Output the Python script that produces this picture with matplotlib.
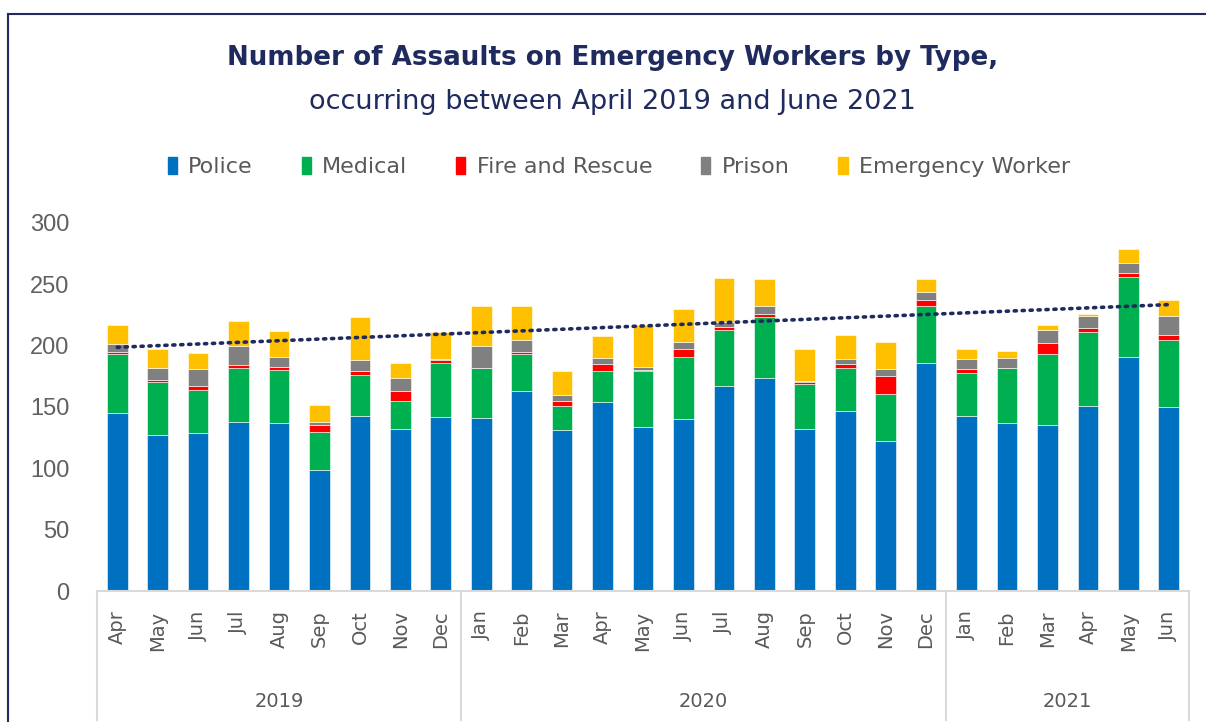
import matplotlib.pyplot as plt
import numpy as np
from matplotlib.lines import Line2D
from matplotlib.patches import Patch

plt.rcParams['font.family'] = ['DejaVu Sans']

months = ['Apr', 'May', 'Jun', 'Jul', 'Aug', 'Sep', 'Oct', 'Nov', 'Dec',
          'Jan', 'Feb', 'Mar', 'Apr', 'May', 'Jun', 'Jul', 'Aug', 'Sep', 'Oct', 'Nov', 'Dec',
          'Jan', 'Feb', 'Mar', 'Apr', 'May', 'Jun']
years = ['2019', '2020', '2021']
year_counts = [9, 12, 6]

police = [145, 127, 129, 138, 137, 99, 143, 132, 142,
          141, 163, 131, 154, 134, 140, 167, 174, 132, 147, 122, 186,
          143, 137, 135, 151, 191, 150]
medical = [48, 43, 35, 44, 43, 31, 33, 23, 44,
           41, 30, 20, 25, 45, 51, 46, 49, 37, 35, 39, 46,
           35, 45, 58, 60, 65, 55]
fire = [2, 2, 3, 2, 3, 5, 3, 8, 2,
        0, 2, 4, 6, 1, 6, 2, 3, 1, 3, 14, 5,
        3, 0, 9, 3, 3, 4]
prison = [6, 10, 14, 16, 8, 3, 9, 11, 1,
          18, 10, 5, 5, 3, 6, 4, 6, 1, 4, 6, 7,
          8, 8, 11, 10, 8, 15]
emergency = [16, 15, 13, 20, 21, 14, 35, 12, 22,
             32, 27, 19, 18, 34, 27, 36, 22, 26, 20, 22, 10,
             8, 6, 4, 2, 12, 13]

series = [('Police', police, '#0070C0'),
          ('Medical', medical, '#00B050'),
          ('Fire and Rescue', fire, '#FF0000'),
          ('Prison', prison, '#808080'),
          ('Emergency Worker', emergency, '#FFC000')]

navy = '#1F2A5E'
grey_txt = '#595959'

fig = plt.figure(figsize=(12.06, 7.22), dpi=100)
ax = fig.add_axes([97 / 1206, 1 - 591 / 722, (1189 - 97) / 1206, (591 - 223) / 722])

x = np.arange(len(months))
bottom = np.zeros(len(months))
for name, vals, col in series:
    ax.bar(x, vals, 0.51, bottom=bottom, color=col, label=name,
           edgecolor='white', linewidth=0.4)
    bottom += np.array(vals)

# linear trend of totals
k, b = np.polyfit(x, bottom, 1)
ax.plot(x, k * x + b, color=navy, linestyle=(0, (0.6, 1.6)), linewidth=2.6,
        dash_capstyle='round')

ax.set_xlim(-0.5, len(months) - 0.5)
ax.set_ylim(0, 300)
ax.set_yticks(range(0, 301, 50))
ax.tick_params(axis='y', length=0, labelsize=17, labelcolor='#606060', pad=20)
for lab in ax.get_yticklabels():
    lab.set_family('Liberation Sans')
ax.set_xticks([])
for s in ['top', 'right', 'left']:
    ax.spines[s].set_visible(False)
ax.spines['bottom'].set_color('#D9D9D9')
ax.spines['bottom'].set_linewidth(1.5)

# month labels
for i, m in enumerate(months):
    ax.annotate(m, (i, 0), xytext=(0, -14), textcoords='offset points',
                rotation=90, ha='center', va='top', fontsize=14, color=grey_txt,
                annotation_clip=False)

# year groups and separators
edges = np.concatenate([[0], np.cumsum(year_counts)]) - 0.5
for e in edges:
    ax.plot([e, e], [0, -105], color='#D9D9D9', linewidth=1.5, clip_on=False)
for i, yr in enumerate(years):
    ax.text((edges[i] + edges[i + 1]) / 2, -90, yr, ha='center', va='center',
            fontsize=14, color=grey_txt, clip_on=False)

fig.text(0.508, 1 - 58 / 722, 'Number of Assaults on Emergency Workers by Type,',
         ha='center', va='center', fontsize=18.8, fontweight='bold', color=navy)
fig.text(0.508, 1 - 102 / 722, 'occurring between April 2019 and June 2021',
         ha='center', va='center', fontsize=19.5, color=navy)

handles = [Patch(facecolor=c, edgecolor=c) for _, _, c in series]
fig.legend(handles, [n for n, _, _ in series], loc='center',
           bbox_to_anchor=(0.513, 1 - 167 / 722), ncol=5, frameon=False,
           fontsize=16, labelcolor=grey_txt, handlelength=0.42, handleheight=0.85,
           handletextpad=0.5, columnspacing=2.2)

# outer frame lines
fig.add_artist(Line2D([8 / 1206, 1], [1 - 13.5 / 722] * 2, color=navy, linewidth=1.5))
fig.add_artist(Line2D([8 / 1206] * 2, [0, 1 - 13.5 / 722], color=navy, linewidth=1.5))

fig.savefig('out.png', dpi=100)
